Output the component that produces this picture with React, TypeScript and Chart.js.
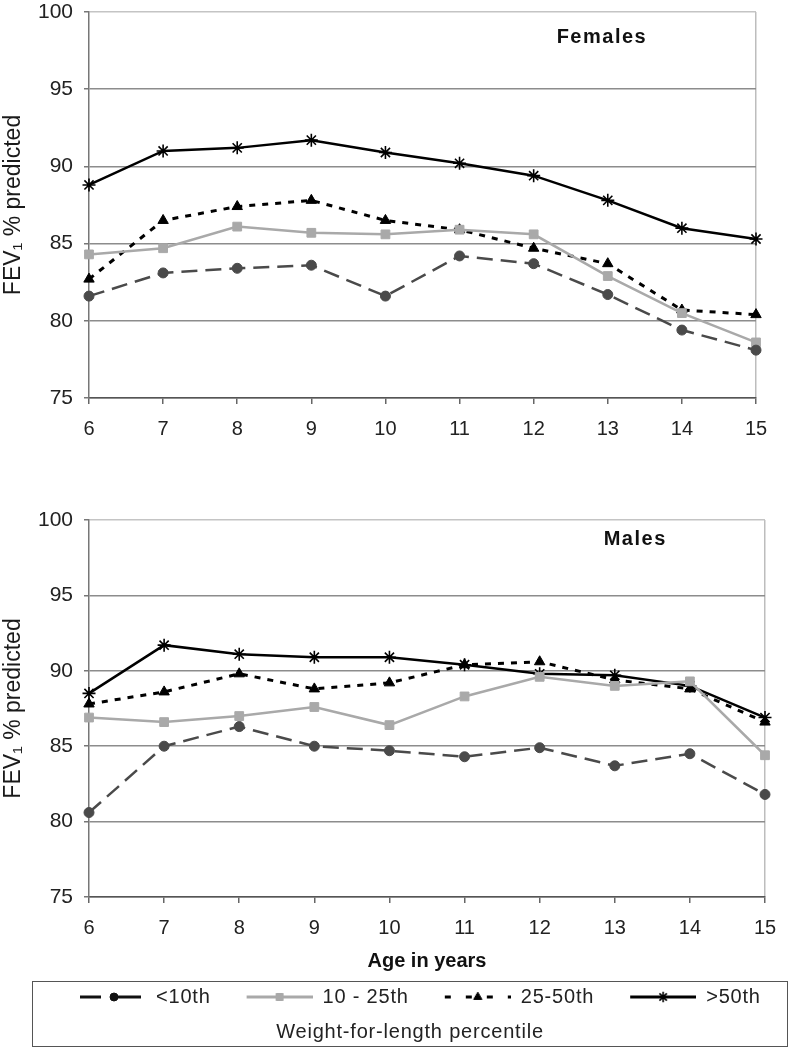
import React, { useEffect, useRef } from 'react';
import { Chart, registerables } from 'chart.js';
import { drawPoint } from 'chart.js/helpers';

Chart.register(...registerables);

// ---------- data ----------
const ages = ['6', '7', '8', '9', '10', '11', '12', '13', '14', '15'];
const yTicksMin = 75;
const yTicksMax = 100;
const yTickStep = 5;

const seriesLabels = ['<10th', '10 - 25th', '25-50th', '>50th'];

const femalesLt10 = [81.6, 83.1, 83.4, 83.6, 81.6, 84.2, 83.7, 81.7, 79.4, 78.1];
const females10to25 = [84.3, 84.7, 86.1, 85.7, 85.6, 85.9, 85.6, 82.9, 80.5, 78.6];
const females25to50 = [82.7, 86.5, 87.4, 87.8, 86.5, 85.9, 84.7, 83.7, 80.7, 80.4];
const femalesGt50 = [88.8, 91.0, 91.2, 91.7, 90.9, 90.2, 89.4, 87.8, 86.0, 85.3];

const malesLt10 = [80.6, 85.0, 86.3, 85.0, 84.7, 84.3, 84.9, 83.7, 84.5, 81.8];
const males10to25 = [86.9, 86.6, 87.0, 87.6, 86.4, 88.3, 89.6, 89.0, 89.3, 84.4];
const males25to50 = [87.8, 88.6, 89.8, 88.8, 89.2, 90.4, 90.6, 89.4, 88.8, 86.6];
const malesGt50 = [88.5, 91.7, 91.1, 90.9, 90.9, 90.4, 89.8, 89.7, 89.0, 86.9];

const yTitle = 'FEV\u2081 % predicted';
const xTitle = 'Age in years';
const legendTitle = 'Weight-for-length percentile';

// ---------- styles ----------
const FONT = '"Liberation Sans", Arial, "DejaVu Sans", sans-serif';

type SeriesStyle = {
  color: string;
  dash: number[];
  width: number;
  pointStyle: any;
  radius: number;
  pointBorderWidth: number;
};

const styles: SeriesStyle[] = [
  { color: '#4a4a4a', dash: [16, 8], width: 2.5, pointStyle: 'circle', radius: 5, pointBorderWidth: 1 },
  { color: '#a9a9a9', dash: [], width: 2.5, pointStyle: 'rect', radius: 6.2, pointBorderWidth: 1 },
  { color: '#000000', dash: [6, 7], width: 3, pointStyle: 'triangle', radius: 6, pointBorderWidth: 1 },
  { color: '#000000', dash: [], width: 2.5, pointStyle: 'star', radius: 6.5, pointBorderWidth: 1.6 },
];

function makeDatasets(values: number[][]) {
  return values.map((v, i) => {
    const s = styles[i];
    return {
      label: seriesLabels[i],
      data: v,
      borderColor: s.color,
      backgroundColor: s.color,
      borderWidth: s.width,
      borderDash: s.dash,
      pointStyle: s.pointStyle,
      pointRadius: s.radius,
      pointBackgroundColor: s.color,
      pointBorderColor: s.color,
      pointBorderWidth: s.pointBorderWidth,
      tension: 0,
      fill: false,
    };
  });
}

const cornerLabelPlugin = {
  id: 'cornerLabel',
  afterDatasetsDraw(chart: any, _args: any, opts: any) {
    if (!opts || !opts.text) return;
    const { ctx, chartArea } = chart;
    ctx.save();
    ctx.font = `bold ${opts.size}px ${FONT}`;
    try { (ctx as any).letterSpacing = opts.spacing || '0px'; } catch (e) {}
    ctx.fillStyle = '#111';
    ctx.textAlign = 'center';
    ctx.textBaseline = 'middle';
    const x = chartArea.left + opts.fx * (chartArea.right - chartArea.left);
    const y = chartArea.top + opts.dy;
    ctx.fillText(opts.text, x, y);
    ctx.restore();
  },
};

// letter spacing for the legend canvas text (layout and drawing)
const spacingPlugin = {
  id: 'spacing',
  beforeUpdate(chart: any, _a: any, opts: any) {
    try { chart.ctx.letterSpacing = opts.value || '0px'; } catch (e) {}
  },
  beforeDraw(chart: any, _a: any, opts: any) {
    try { chart.ctx.letterSpacing = opts.value || '0px'; } catch (e) {}
  },
};

function makeOptions(cfg: {
  padTop: number;
  padRight: number;
  xAxisHeight: number;
  showXTitle: boolean;
  label: string;
  labelFx: number;
  labelDy: number;
}) {
  const lastIndex = ages.length - 1;
  return {
    responsive: false,
    animation: false,
    events: [],
    layout: { padding: { top: cfg.padTop, right: cfg.padRight, left: 0, bottom: 0 } },
    plugins: {
      legend: { display: false },
      title: { display: false },
      tooltip: { enabled: false },
      cornerLabel: { text: cfg.label, fx: cfg.labelFx, dy: cfg.labelDy, size: 20, spacing: '1.5px' },
    },
    scales: {
      x: {
        type: 'category',
        offset: false,
        ticks: {
          font: { family: FONT, size: 20 },
          color: '#222',
          padding: 13,
          maxRotation: 0,
          autoSkip: false,
        },
        grid: {
          drawOnChartArea: true,
          drawTicks: true,
          tickLength: 6,
          color: (c: any) => (c.index === lastIndex ? '#bdbdbd' : 'rgba(0,0,0,0)'),
          tickColor: '#666',
          lineWidth: 1.5,
        },
        border: { color: '#555', width: 1.5 },
        title: {
          display: cfg.showXTitle,
          text: xTitle,
          font: { family: FONT, size: 20, weight: 'bold' },
          color: '#111',
          padding: { top: 0, bottom: 7 },
        },
        afterFit: (s: any) => {
          s.height = cfg.xAxisHeight;
        },
      },
      y: {
        min: yTicksMin,
        max: yTicksMax,
        ticks: {
          stepSize: yTickStep,
          font: { family: FONT, size: 21 },
          color: '#222',
          padding: 11,
        },
        grid: {
          color: (c: any) => (c.tick && c.tick.value === yTicksMax ? '#c4c4c4' : '#8c8c8c'),
          tickColor: '#777',
          lineWidth: 1.5,
          tickLength: 5,
          drawTicks: true,
        },
        border: { color: '#777', width: 1.5 },
        title: {
          display: true,
          text: yTitle,
          font: { family: FONT, size: 23 },
          color: '#1a1a1a',
          padding: { top: 0, bottom: 0 },
        },
        afterFit: (s: any) => {
          s.width = 89;
        },
      },
    },
  };
}

const SAMPLE_GAP = 31;
const SAMPLE_LEN = 66;

function makeSample(i: number): HTMLCanvasElement {
  const s = styles[i];
  const c = document.createElement('canvas');
  c.width = SAMPLE_GAP + SAMPLE_LEN;
  c.height = 16;
  const ctx = c.getContext('2d')!;
  const cy = 8;
  const x0 = SAMPLE_GAP;
  const x1 = SAMPLE_GAP + SAMPLE_LEN - (i === 0 ? 5 : 0);
  const mid = i === 0 ? x0 + 34 : (x0 + x1) / 2;
  const col = i === 0 ? '#111' : s.color;
  ctx.strokeStyle = col;
  ctx.lineWidth = 3;
  ctx.lineCap = 'butt';
  if (i === 0) {
    ctx.beginPath();
    ctx.moveTo(x0, cy);
    ctx.lineTo(x0 + 21, cy);
    ctx.moveTo(mid, cy);
    ctx.lineTo(x1, cy);
    ctx.stroke();
  } else if (i === 2) {
    ctx.setLineDash([6, 15]);
    ctx.beginPath();
    ctx.moveTo(x0, cy);
    ctx.lineTo(x1, cy);
    ctx.stroke();
    ctx.setLineDash([]);
  } else {
    ctx.beginPath();
    ctx.moveTo(x0, cy);
    ctx.lineTo(x1, cy);
    ctx.stroke();
  }
  ctx.fillStyle = col;
  ctx.strokeStyle = col;
  ctx.lineWidth = s.pointBorderWidth;
  drawPoint(
    ctx,
    { pointStyle: s.pointStyle, radius: s.radius * 0.8, borderWidth: s.pointBorderWidth, rotation: 0 } as any,
    mid,
    cy
  );
  return c;
}

export default function App() {
  const topRef = useRef<HTMLCanvasElement | null>(null);
  const botRef = useRef<HTMLCanvasElement | null>(null);
  const legRef = useRef<HTMLCanvasElement | null>(null);

  useEffect(() => {
    const charts: Chart[] = [];
    if (topRef.current) {
      charts.push(
        new Chart(topRef.current, {
          type: 'line',
          data: {
            labels: ages,
            datasets: makeDatasets([femalesLt10, females10to25, females25to50, femalesGt50]) as any,
          },
          options: makeOptions({
            padTop: 40,
            padRight: 36,
            xAxisHeight: 42,
            showXTitle: false,
            label: 'Females',
            labelFx: 0.769,
            labelDy: 25,
          }) as any,
          plugins: [cornerLabelPlugin],
        })
      );
    }
    if (botRef.current) {
      charts.push(
        new Chart(botRef.current, {
          type: 'line',
          data: {
            labels: ages,
            datasets: makeDatasets([malesLt10, males10to25, males25to50, malesGt50]) as any,
          },
          options: makeOptions({
            padTop: 50,
            padRight: 27,
            xAxisHeight: 83,
            showXTitle: true,
            label: 'Males',
            labelFx: 0.808,
            labelDy: 19,
          }) as any,
          plugins: [cornerLabelPlugin],
        })
      );
    }
    if (legRef.current) {
      const samples = styles.map((_, i) => makeSample(i));
      charts.push(
        new Chart(legRef.current, {
          type: 'line',
          data: {
            labels: [],
            datasets: seriesLabels.map((l) => ({ label: l, data: [] })),
          },
          options: {
            responsive: false,
            animation: false,
            events: [],
            layout: { padding: { top: 0, right: 11, left: 11, bottom: 0 } },
            scales: { x: { display: false }, y: { display: false } },
            plugins: {
              tooltip: { enabled: false },
              spacing: { value: '0.8px' },
              legend: {
                display: true,
                position: 'top',
                align: 'start',
                labels: {
                  usePointStyle: true,
                  pointStyleWidth: SAMPLE_GAP + SAMPLE_LEN,
                  padding: 5,
                  color: '#222',
                  font: { family: FONT, size: 20 },
                  generateLabels: () =>
                    seriesLabels.map((t, i) => ({
                      text: t,
                      pointStyle: samples[i],
                      fillStyle: 'rgba(0,0,0,0)',
                      strokeStyle: 'rgba(0,0,0,0)',
                      lineWidth: 0,
                      hidden: false,
                      datasetIndex: i,
                      fontColor: '#222',
                    })),
                },
              },
              title: {
                display: true,
                position: 'bottom',
                text: legendTitle,
                color: '#222',
                font: { family: FONT, size: 20, weight: 'normal' },
                padding: { top: 2, bottom: 2 },
              },
            },
          } as any,
          plugins: [spacingPlugin],
        })
      );
    }
    return () => {
      charts.forEach((c) => c.destroy());
    };
  }, []);

  return (
    <div style={{ position: 'absolute', left: 0, top: 0, width: 792, height: 1050, background: '#fff', overflow: 'hidden' }}>
      <canvas ref={topRef} width={792} height={468} style={{ position: 'absolute', left: 0, top: -28 }} />
      <canvas ref={botRef} width={792} height={510} style={{ position: 'absolute', left: 0, top: 470 }} />
      <div
        style={{
          position: 'absolute',
          left: 32,
          top: 981,
          width: 754,
          height: 64,
          border: '1px solid #555',
        }}
      >
        <canvas ref={legRef} width={754} height={64} style={{ display: 'block' }} />
      </div>
    </div>
  );
}
